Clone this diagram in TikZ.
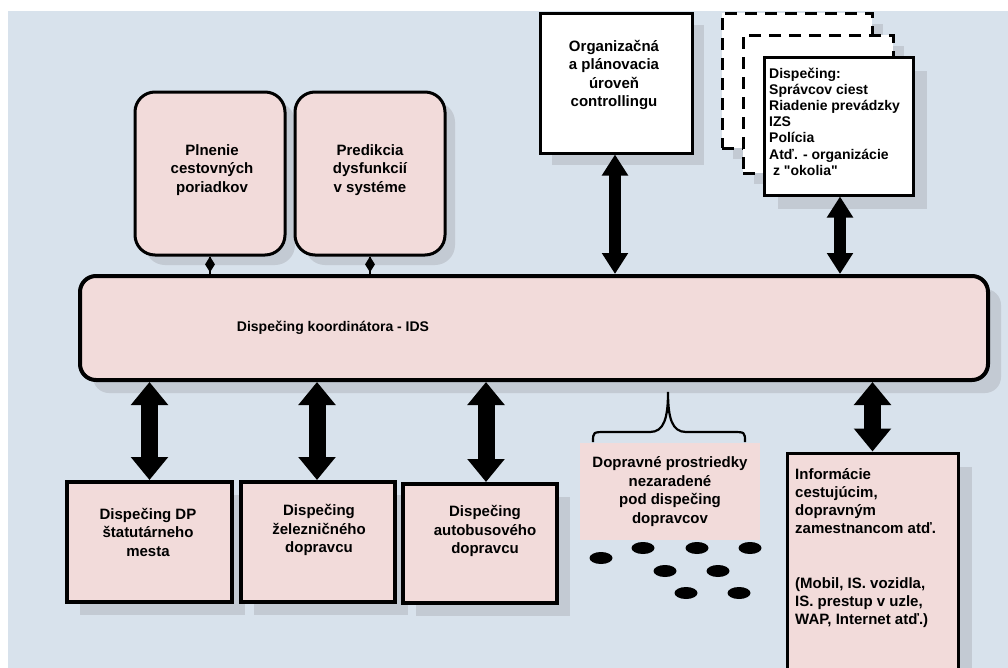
\documentclass[tikz,border=0pt]{standalone}
\usepackage{fontspec}
\setmainfont{Liberation Sans}[Ligatures=TeXOff]
\usetikzlibrary{arrows.meta,shapes.geometric,calc}
\definecolor{bgc}{HTML}{D8E2EC}
\definecolor{pinkc}{HTML}{F2DBDA}
\definecolor{shc}{HTML}{C3CAD3}
\begin{document}
\begin{tikzpicture}[x=1pt,y=-1pt,
  shad/.style={preaction={fill=shc,draw=none,transform canvas={xshift=#1,yshift=-#1}}},
  shad/.default=13pt,
  rbox/.style={draw=black,line width=3pt,fill=pinkc,rounded corners=20pt,inner sep=0pt},
  pbox/.style={draw=black,line width=4pt,fill=pinkc,inner sep=0pt},
  wbox/.style={draw=black,line width=3pt,fill=white,inner sep=0pt},
  dbox/.style={draw=black,line width=3pt,fill=white,dash pattern=on 12pt off 8pt,inner sep=0pt},
  txt/.style={font=\bfseries\fontsize{15}{18.5}\selectfont,align=center,inner sep=0pt},
  ltxt/.style={font=\bfseries\fontsize{15}{18.1}\selectfont,align=left,inner sep=0pt,anchor=west},
  sarr/.style={line width=12pt,{Triangle[length=21pt 0 0,width=25pt 0 0]}-{Triangle[length=21pt 0 0,width=25pt 0 0]}},
  barr/.style={line width=17pt,{Triangle[length=23pt 0 0,width=36pt 0 0]}-{Triangle[length=23pt 0 0,width=36pt 0 0]}},
  dia/.style={diamond,fill=black,minimum width=10pt,minimum height=16pt,inner sep=0pt},
  dot/.style={ellipse,fill=black,minimum width=23pt,minimum height=12pt,inner sep=0pt}
]
\useasboundingbox (0,0) rectangle (1008,667);
\clip (0,0) rectangle (1008,667);
\fill[white] (0,0) rectangle (1008,667);
\fill[bgc] (8,11) rectangle (1010,670);

% top rounded boxes
\node[rbox,shad=10pt,minimum width=150,minimum height=163] (p1) at (210,173.5) {};
\node[txt] (p1t) at (212,170) {Plnenie\\cestovných\\poriadkov};
\node[rbox,shad=10pt,minimum width=150,minimum height=163] (p2) at (370,173.5) {};
\node[txt] (p2t) at (370,170) {Predikcia\\dysfunkcií\\v systéme};

% organizational box
\node[wbox,shad=12pt,minimum width=152,minimum height=140] (org) at (616,83) {};
\node[txt] (orgt) at (614,75) {Organizačná\\a plánovacia\\úroveň\\controllingu};

% dashed stacked boxes
\node[dbox,shad=11pt,minimum width=150,minimum height=135] (dA) at (797,80.5) {};
\node[dbox,shad=11pt,minimum width=150,minimum height=138] (dB) at (818,104) {};
\node[wbox,shad=14pt,minimum width=149,minimum height=138] (disp) at (838.5,126) {};
\node[ltxt,font=\bfseries\fontsize{14}{16.2}\selectfont] (dispt) at (769,121.5) {Dispečing:\\Správcov ciest\\Riadenie prevádzky\\IZS\\Polícia\\Atď. - organizácie\\\ z "okolia"};

% main bar
\node[pbox,shad=13pt,rounded corners=16pt,minimum width=908,minimum height=104] (bar) at (534,328) {};
\node[txt,font=\bfseries\fontsize{14}{17}\selectfont] (bart) at (333,328) {Dispečing koordinátora - IDS};

% bottom boxes
\node[pbox,shad=13pt,minimum width=165,minimum height=120] (b1) at (149.5,542) {};
\node[txt] (b1t) at (148,532) {Dispečing DP\\štatutárneho\\mesta};
\node[pbox,shad=13pt,minimum width=154,minimum height=120] (b2) at (318,542) {};
\node[txt] (b2t) at (319,530) {Dispečing\\železničného\\dopravcu};
\node[pbox,shad=13pt,minimum width=154,minimum height=119] (b3) at (480,543.5) {};
\node[txt] (b3t) at (485,531) {Dispečing\\autobusového\\dopravcu};

% unassigned vehicles
\node[fill=pinkc,inner sep=0pt,minimum width=180,minimum height=97,txt] (dp) at (670,491.5) {Dopravné prostriedky\\nezaradené\\pod dispečing\\dopravcov};
\draw[line width=2.2pt] (593,442) .. controls (593,432) .. (606,432) -- (650,432) .. controls (664,432) and (668,418) .. (668,392)
  .. controls (668,418) and (672,432) .. (686,432) -- (732,432) .. controls (745,432) .. (745,442);
\node[dot] (v1) at (601,558) {};
\node[dot] (v2) at (643,548) {};
\node[dot] (v3) at (697,548) {};
\node[dot] (v4) at (750,548) {};
\node[dot] (v5) at (665,571) {};
\node[dot] (v6) at (718,571) {};
\node[dot] (v7) at (686,593) {};
\node[dot] (v8) at (739,593) {};

% information box
\node[wbox,fill=pinkc,shad=14pt,minimum width=171,minimum height=227] (info) at (872.5,566.5) {};
\node[ltxt] (infot) at (795,548) {Informácie\\cestujúcim,\\dopravným\\zamestnancom atď.\\[36pt](Mobil, IS. vozidla,\\IS. prestup v uzle,\\WAP, Internet atď.)};

% connectors
\draw[line width=1.5pt] (p1.south) -- (p1.south |- bar.north);
\node[dia] (d1) at ($(p1.south)!0.45!(p1.south |- bar.north)$) {};
\draw[line width=1.5pt] (p2.south) -- (p2.south |- bar.north);
\node[dia] (d2) at ($(p2.south)!0.45!(p2.south |- bar.north)$) {};
\draw[sarr] ([xshift=-1pt]org.south) -- ([xshift=-1pt]org.south |- bar.north);
\draw[sarr] ([xshift=1.5pt]disp.south) -- ([xshift=1.5pt]disp.south |- bar.north);
\draw[barr] (b1.north |- bar.south) -- (b1.north);
\draw[barr] ([xshift=-1pt]b2.north |- bar.south) -- ([xshift=-1pt]b2.north);
\draw[barr] ([xshift=6pt]b3.north |- bar.south) -- ([xshift=6pt]b3.north);
\draw[barr] (info.north |- bar.south) -- (info.north);
\end{tikzpicture}
\end{document}
